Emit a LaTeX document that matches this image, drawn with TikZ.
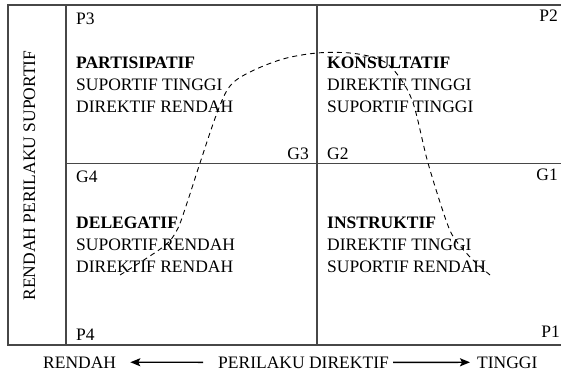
\documentclass[tikz,border=0pt]{standalone}
\usepackage{fontspec}
\setmainfont{Liberation Serif}
\usetikzlibrary{arrows.meta}
\begin{document}
\begin{tikzpicture}[x=1pt,y=-1pt,
  frame/.style={draw=black!72,line width=1.3pt},
  lbl/.style={inner sep=0pt,font=\fontsize{17.5}{22}\selectfont},
  ttl/.style={lbl,font=\fontsize{17.5}{22}\selectfont\bfseries},
  curve/.style={draw=black,line width=0.9pt,dash pattern=on 5pt off 4pt},
  axisarrow/.style={draw=black,line width=1.4pt,-{Stealth[length=10pt,width=8pt,inset=2pt]}}]
\useasboundingbox (0,0) rectangle (561,374);
\clip (0,0) rectangle (561,374);

% grid of the four quadrants
\draw[frame] (575,5) -- (8,5) -- (8,345) -- (575,345);
\draw[frame] (66,5) -- (66,345);
\draw[frame] (317,5) -- (317,345);
\draw[frame] (66,163.5) -- (575,163.5);

% corner labels
\node[lbl,anchor=base west] (p3) at (76,25) {P3};
\node[lbl,anchor=base east] (p2) at (558,22) {P2};
\node[lbl,anchor=base east] (g3) at (309,159) {G3};
\node[lbl,anchor=base west] (g2) at (327,159) {G2};
\node[lbl,anchor=base west] (g4) at (76,182) {G4};
\node[lbl,anchor=base east] (g1) at (558,180) {G1};
\node[lbl,anchor=base west] (p4) at (76,340) {P4};
\node[lbl,anchor=base east] (p1) at (560,337) {P1};

% quadrant texts
\node[ttl,anchor=base west] (q3a) at (76,69) {PARTISIPATIF};
\node[lbl,anchor=base west] (q3b) at (76,91) {SUPORTIF TINGGI};
\node[lbl,anchor=base west] (q3c) at (76,113) {DIREKTIF RENDAH};

\node[ttl,anchor=base west] (q2a) at (327,69) {KONSULTATIF};
\node[lbl,anchor=base west] (q2b) at (327,91) {DIREKTIF TINGGI};
\node[lbl,anchor=base west] (q2c) at (327,113) {SUPORTIF TINGGI};

\node[ttl,anchor=base west] (q4a) at (76,228) {DELEGATIF};
\node[lbl,anchor=base west] (q4b) at (76,250) {SUPORTIF RENDAH};
\node[lbl,anchor=base west] (q4c) at (76,272) {DIREKTIF RENDAH};

\node[ttl,anchor=base west] (q1a) at (327,228) {INSTRUKTIF};
\node[lbl,anchor=base west] (q1b) at (327,250) {DIREKTIF TINGGI};
\node[lbl,anchor=base west] (q1c) at (327,272) {SUPORTIF RENDAH};

% vertical axis title
\node[lbl,rotate=90,anchor=base] (yax) at (35,175.5) {RENDAH PERILAKU SUPORTIF};

% horizontal axis
\node[lbl,anchor=base west] (lo) at (43,368) {RENDAH};
\node[lbl,anchor=base west] (dir) at (218,368) {PERILAKU DIREKTIF};
\node[lbl,anchor=base west] (hi) at (477,368) {TINGGI};
\draw[axisarrow,shorten <=15pt,shorten >=14pt] (dir.west) -- (lo.east);
\draw[axisarrow,shorten <=4pt,shorten >=7pt] (dir.east) -- (hi.west);

% development curve
\draw[curve] plot[smooth,tension=0.55] coordinates {
  (120,275) (163,247) (177,230) (187,203) (200,163) (217,113) (230,86)
  (250,72) (283,59) (317,53) (350,53) (375,58) (392,68) (412,100)
  (428,163) (447,223) (457,242) (473,260) (490,275)};
\end{tikzpicture}
\end{document}
